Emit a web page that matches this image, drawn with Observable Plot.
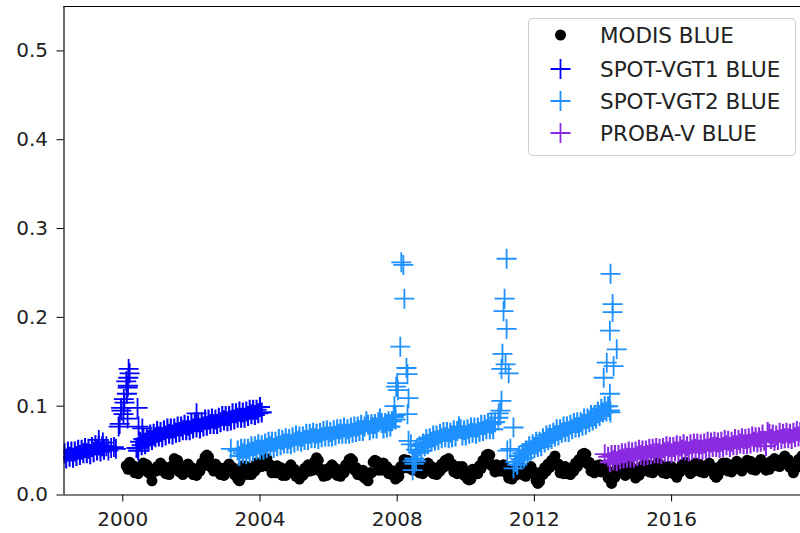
<!DOCTYPE html>
<html>
<head>
<meta charset="utf-8">
<script src="https://cdn.jsdelivr.net/npm/d3@7"></script>
<script src="https://cdn.jsdelivr.net/npm/@observablehq/plot@0.6"></script>
<style>
  html, body { margin: 0; padding: 0; background: #fff; overflow: hidden; }
  #wrap { position: relative; width: 800px; height: 533px; }
  #legend { position: absolute; left: 528px; top: 18px; }
</style>
</head>
<body>
<div id="wrap"></div>
<script>
// Blue-band surface reflectance time series from four sensors.
// Dense series are sampled on a regular grid (start year + i * STEP).
const STEP = 0.05;

// MODIS BLUE, from 2000.10
const modisStart = 2000.10;
const modisValues = [
  // 2000
  0.033,0.029,0.037,0.030,0.033,0.025,0.029,0.024,0.032,0.028,0.036,0.031,0.034,0.025,0.027,0.016,0.026,0.027,
  // 2001
  0.032,0.028,0.036,0.029,0.032,0.024,0.028,0.023,0.032,0.031,0.041,0.038,0.039,0.026,0.028,0.023,0.031,0.027,0.035,0.028,
  // 2002
  0.031,0.023,0.027,0.022,0.030,0.027,0.036,0.033,0.043,0.045,0.043,0.032,0.034,0.027,0.035,0.028,0.031,0.023,0.027,0.022,
  // 2003
  0.031,0.027,0.035,0.028,0.031,0.023,0.026,0.018,0.016,0.020,0.033,0.029,0.032,0.023,0.027,0.023,0.031,0.027,0.036,0.031,
  // 2004
  0.036,0.032,0.039,0.035,0.041,0.032,0.034,0.025,0.029,0.025,0.033,0.028,0.031,0.022,0.026,0.022,0.030,0.026,0.034,0.026,
  // 2005
  0.029,0.021,0.024,0.018,0.025,0.022,0.030,0.026,0.034,0.027,0.031,0.028,0.038,0.042,0.039,0.027,0.029,0.021,0.026,0.022,
  // 2006
  0.030,0.026,0.034,0.027,0.030,0.022,0.026,0.021,0.029,0.025,0.034,0.031,0.040,0.041,0.039,0.028,0.031,0.023,0.027,0.022,
  // 2007
  0.028,0.019,0.022,0.016,0.025,0.025,0.037,0.039,0.038,0.028,0.032,0.028,0.036,0.029,0.032,0.024,0.028,0.023,0.027,0.018,
  // 2008
  0.020,0.021,0.032,0.030,0.040,0.038,0.039,0.030,0.033,0.028,0.036,0.031,0.034,0.025,0.029,0.024,0.032,0.028,0.036,0.029,
  // 2009
  0.032,0.024,0.028,0.023,0.031,0.027,0.035,0.031,0.039,0.035,0.041,0.033,0.035,0.026,0.029,0.024,0.032,0.028,0.032,0.022,
  // 2010
  0.025,0.018,0.017,0.018,0.029,0.025,0.029,0.024,0.033,0.030,0.039,0.036,0.045,0.046,0.045,0.033,0.034,0.026,0.034,0.027,
  // 2011
  0.031,0.027,0.034,0.026,0.029,0.019,0.020,0.018,0.026,0.022,0.031,0.027,0.032,0.023,0.026,0.021,0.029,0.025,0.032,0.024,
  // 2012
  0.026,0.016,0.013,0.015,0.026,0.023,0.031,0.027,0.035,0.031,0.039,0.035,0.044,0.034,0.035,0.025,0.029,0.024,0.032,0.024,
  // 2013
  0.028,0.023,0.031,0.027,0.036,0.032,0.040,0.037,0.046,0.047,0.046,0.035,0.037,0.027,0.030,0.025,0.033,0.029,0.034,0.026,
  // 2014
  0.033,0.026,0.029,0.019,0.020,0.013,0.021,0.020,0.030,0.026,0.034,0.027,0.031,0.022,0.029,0.025,0.033,0.025,0.027,0.019,
  // 2015
  0.024,0.022,0.031,0.027,0.035,0.030,0.034,0.026,0.030,0.025,0.033,0.029,0.037,0.030,0.033,0.025,0.029,0.024,0.032,0.028,
  // 2016
  0.032,0.024,0.028,0.020,0.029,0.026,0.034,0.030,0.037,0.029,0.032,0.024,0.031,0.027,0.036,0.031,0.035,0.026,0.030,0.025,
  // 2017
  0.033,0.029,0.036,0.028,0.031,0.022,0.020,0.022,0.032,0.028,0.036,0.032,0.036,0.027,0.031,0.026,0.034,0.031,0.038,0.030,
  // 2018
  0.034,0.027,0.035,0.031,0.039,0.034,0.038,0.029,0.033,0.028,0.036,0.032,0.040,0.033,0.036,0.028,0.033,0.029,0.038,0.034,
  // 2019
  0.041,0.033,0.037,0.032,0.040,0.036,0.044,0.037,0.040,0.031,0.034,0.025,0.034,0.031,0.040,0.037,0.044
];

// SPOT-VGT1 BLUE: first run, the 2000 spike, then the second run
const vgt1StartA = 1998.30;
const vgt1ValuesA = [
  0.047,0.041,0.049,0.043,0.049,0.042,0.049,0.044,0.051,0.045,0.051,0.047,
  0.053,0.047,0.052,0.046,0.054,0.048,0.056,0.050,0.056,0.049,0.055,0.051
];
const vgt1Scattered = [
  [1999.30,0.062],[1999.42,0.059],[1999.52,0.055],[1999.58,0.050],[1999.66,0.053],[1999.74,0.054],[1999.80,0.052],
  [1999.88,0.077],[1999.91,0.080],[1999.96,0.095],[1999.95,0.098],[2000.02,0.091],[2000.05,0.104],[2000.03,0.108],
  [2000.14,0.086],[2000.12,0.114],[2000.14,0.121],[2000.15,0.123],[2000.16,0.132],[2000.17,0.142],[2000.20,0.137],
  [2000.10,0.128],[2000.43,0.098],[2000.46,0.077],[2000.43,0.053],[2000.57,0.075],[2002.15,0.092]
];
const vgt1StartB = 2000.40;
const vgt1ValuesB = [
  0.053,0.050,0.060,0.056,0.063,0.057,0.064,0.060,0.068,0.062,0.069,0.065,0.072,
  0.066,0.071,0.065,0.073,0.067,0.075,0.069,0.075,0.068,0.075,0.070,
  0.077,0.071,0.077,0.073,0.079,0.073,0.078,0.073,
  0.080,0.075,0.082,0.076,0.082,0.075,0.082,0.077,
  0.085,0.078,0.085,0.080,0.086,0.080,0.085,0.080,
  0.087,0.082,0.089,0.084,0.089,0.083,0.089,0.084,
  0.092,0.085,0.092,0.087,0.094,0.087,0.093,0.087,
  0.094,0.089,0.096,0.091,0.096,0.090,0.096,0.092,0.099,0.093
];

// SPOT-VGT2 BLUE: three runs separated by the 2008, 2011 and 2014 spikes
const vgt2StartA = 2003.35;
const vgt2ValuesA = [
  0.050,0.044,0.052,0.047,0.052,0.046,0.052,0.048,0.055,0.049,
  0.055,0.051,0.057,0.051,0.056,0.051,0.058,0.053,0.060,0.055,
  0.060,0.053,0.060,0.055,0.063,0.056,0.062,0.058,0.064,0.058,
  0.063,0.057,0.065,0.059,0.067,0.061,0.066,0.060,0.066,0.062,
  0.069,0.062,0.069,0.064,0.070,0.064,0.069,0.063,0.070,0.065,
  0.072,0.066,0.073,0.066,0.071,0.066,0.073,0.067,0.074,0.069,
  0.074,0.069,0.076,0.069,0.074,0.069,0.076,0.070,0.077,0.071,
  0.077,0.072,0.079,0.072,0.077,0.083,0.079,0.073,0.080,0.075,
  0.080,0.075,0.082,0.086,0.081,0.075,0.081,0.076,0.083,0.077,
  0.083,0.088,0.085
];
const vgt2StartB = 2008.45;
const vgt2ValuesB = [
  0.038,0.041,0.051,0.048,0.055,0.050,0.058,0.055,0.063,0.057,
  0.064,0.060,0.067,0.061,0.067,0.062,0.069,0.064,0.071,0.065,
  0.071,0.064,0.070,0.065,0.073,0.066,0.072,0.077,0.074,0.067,
  0.073,0.067,0.074,0.069,0.076,0.070,0.076,0.069,0.076,0.071,
  0.079,0.072,0.079,0.074,0.081,0.074,0.080,0.074,0.082
];
const vgt2StartC = 2011.45;
const vgt2ValuesC = [
  0.037,0.034,0.044,0.040,0.047,0.042,0.050,0.047,0.055,0.050,
  0.057,0.053,0.060,0.054,0.060,0.055,0.064,0.059,0.067,0.062,
  0.068,0.063,0.070,0.066,0.074,0.067,0.074,0.070,0.077,0.071,
  0.077,0.071,0.079,0.074,0.081,0.076,0.082,0.076,0.082,0.078,
  0.086,0.079,0.086,0.082,0.090,0.084,0.090,0.086,0.094,0.089,
  0.097,0.093,0.100,0.094,0.100,0.095
];
const vgt2Scattered = [
  [2003.15,0.052],
  [2007.92,0.100],[2007.95,0.090],[2007.97,0.122],[2008.00,0.126],[2008.02,0.118],[2008.09,0.167],
  [2008.12,0.262],[2008.18,0.259],[2008.21,0.221],[2008.27,0.143],[2008.30,0.136],[2008.33,0.109],
  [2008.30,0.091],[2008.33,0.061],[2008.40,0.057],[2008.55,0.038],[2008.50,0.035],[2008.45,0.028],
  [2010.95,0.087],[2010.96,0.092],[2011.01,0.095],[2011.04,0.106],[2011.04,0.142],[2011.07,0.159],
  [2011.10,0.207],[2011.13,0.221],[2011.19,0.266],[2011.19,0.187],[2011.16,0.147],[2011.25,0.137],
  [2011.39,0.076],[2011.30,0.052],[2011.21,0.050],[2011.39,0.030],
  [2014.02,0.132],[2014.11,0.149],[2014.20,0.185],[2014.20,0.114],[2014.22,0.249],[2014.22,0.093],
  [2014.28,0.215],[2014.28,0.206],[2014.31,0.145],[2014.40,0.164]
];

// PROBA-V BLUE
const probavStart = 2014.15;
const probavValues = [
  0.043,0.037,0.045,0.039,0.045,0.038,0.045,0.040,0.047,0.041,
  0.047,0.042,0.049,0.042,0.048,0.042,0.049,0.044,0.051,0.045,
  0.050,0.044,0.050,0.045,0.052,0.046,0.052,0.047,0.053,0.047,
  0.052,0.046,0.053,0.048,0.055,0.049,0.054,0.047,0.054,0.049,
  0.056,0.049,0.055,0.051,0.057,0.050,0.055,0.049,0.057,0.051,
  0.058,0.052,0.058,0.051,0.057,0.051,0.058,0.052,0.060,0.053,
  0.059,0.054,0.060,0.054,0.059,0.053,0.060,0.054,0.062,0.056,
  0.061,0.054,0.060,0.056,0.063,0.056,0.062,0.058,0.064,0.057,
  0.063,0.057,0.064,0.058,0.066,0.060,0.065,0.059,0.065,0.060,
  0.068,0.061,0.055,0.071,0.069,0.063,0.068,0.061,0.067,0.062,
  0.070,0.063,0.069,0.064,0.070,0.064,0.069,0.063,0.070,0.065,
  0.072,0.066,0.071,0.065
];
const probavScattered = [[2014.05,0.046]];

// Axis domain and tick labels
const xDomain = [1998.286, 2019.758];
const yDomain = [0, 0.55];
const xTicks = [2000, 2004, 2008, 2012, 2016];
const yTicks = [0, 0.1, 0.2, 0.3, 0.4, 0.5];

const series = [
  {name: "MODIS BLUE", color: "#000000", kind: "dot"},
  {name: "SPOT-VGT1 BLUE", color: "#0000ff", kind: "plus"},
  {name: "SPOT-VGT2 BLUE", color: "#1e90ff", kind: "plus"},
  {name: "PROBA-V BLUE", color: "#8a2be2", kind: "plus"}
];

const grid = (start, values) => values.map((v, i) => ({year: start + i * STEP, value: v}));
const pairs = (list) => list.map(([year, value]) => ({year, value}));

const modis = grid(modisStart, modisValues);
const vgt1Runs = [...grid(vgt1StartA, vgt1ValuesA), ...grid(vgt1StartB, vgt1ValuesB)];
const vgt2Runs = [...grid(vgt2StartA, vgt2ValuesA), ...grid(vgt2StartB, vgt2ValuesB), ...grid(vgt2StartC, vgt2ValuesC)];
const probavRun = grid(probavStart, probavValues);

// "+" marker drawn as two strokes, 20px across
const PLUS_HALF = 10;
const plusSymbol = {
  draw(ctx) {
    ctx.moveTo(-PLUS_HALF, 0); ctx.lineTo(PLUS_HALF, 0);
    ctx.moveTo(0, -PLUS_HALF); ctx.lineTo(0, PLUS_HALF);
  }
};
const plusMark = (data, color, width) => Plot.dot(data, {
  x: "year", y: "value", symbol: plusSymbol, r: 10,
  fill: "none", stroke: color, strokeWidth: width, clip: true
});

const spine = {stroke: "#000", strokeWidth: 1.2};

const chart = Plot.plot({
  width: 800,
  height: 533,
  marginLeft: 63.5,
  marginRight: 0,
  marginTop: 6,
  marginBottom: 38.5,
  style: {fontFamily: "DejaVu Sans", fontSize: "20px", color: "#222", background: "#fff"},
  x: {domain: xDomain},
  y: {domain: yDomain},
  marks: [
    Plot.dot(modis, {x: "year", y: "value", r: 5.5, fill: series[0].color, clip: true}),
    plusMark(vgt1Runs, series[1].color, 2.1),
    plusMark(pairs(vgt1Scattered), series[1].color, 1.8),
    plusMark(vgt2Runs, series[2].color, 2.1),
    plusMark(pairs(vgt2Scattered), series[2].color, 1.8),
    plusMark(probavRun, series[3].color, 2.1),
    plusMark(pairs(probavScattered), series[3].color, 1.8),
    Plot.ruleY([yDomain[0]], spine),
    Plot.ruleY([yDomain[1]], spine),
    Plot.ruleX([xDomain[0]], spine),
    Plot.axisX({ticks: xTicks, tickFormat: d => String(d), tickSize: 7, tickPadding: 10, label: null, stroke: "#000"}),
    Plot.axisY({ticks: yTicks, tickFormat: d => d.toFixed(1), tickSize: 7, tickPadding: 9, label: null, stroke: "#000"})
  ]
});

const wrap = document.getElementById("wrap");
wrap.appendChild(chart);

// Legend box in the upper right of the axes
const lw = 268, lh = 138, rowY = [17, 51, 83, 115], symX = 32.5, textX = 72;
const legend = d3.create("svg")
  .attr("id", "legend")
  .attr("width", lw).attr("height", lh)
  .style("font-family", "DejaVu Sans").style("font-size", "21.5px");
legend.append("rect")
  .attr("x", 0.5).attr("y", 0.5).attr("width", lw - 1).attr("height", lh - 1)
  .attr("rx", 4).attr("fill", "rgba(255,255,255,0.8)").attr("stroke", "#cccccc");
series.forEach((s, i) => {
  const g = legend.append("g").attr("transform", `translate(${symX},${rowY[i]})`);
  if (s.kind === "dot") {
    g.append("circle").attr("r", 5.5).attr("fill", s.color);
  } else {
    g.append("path")
      .attr("d", `M${-PLUS_HALF},0H${PLUS_HALF}M0,${-PLUS_HALF}V${PLUS_HALF}`)
      .attr("stroke", s.color).attr("stroke-width", 1.8).attr("fill", "none");
  }
  legend.append("text")
    .attr("x", textX).attr("y", rowY[i]).attr("dy", "0.36em")
    .attr("fill", "#222").text(s.name);
});
wrap.appendChild(legend.node());
</script>
</body>
</html>
